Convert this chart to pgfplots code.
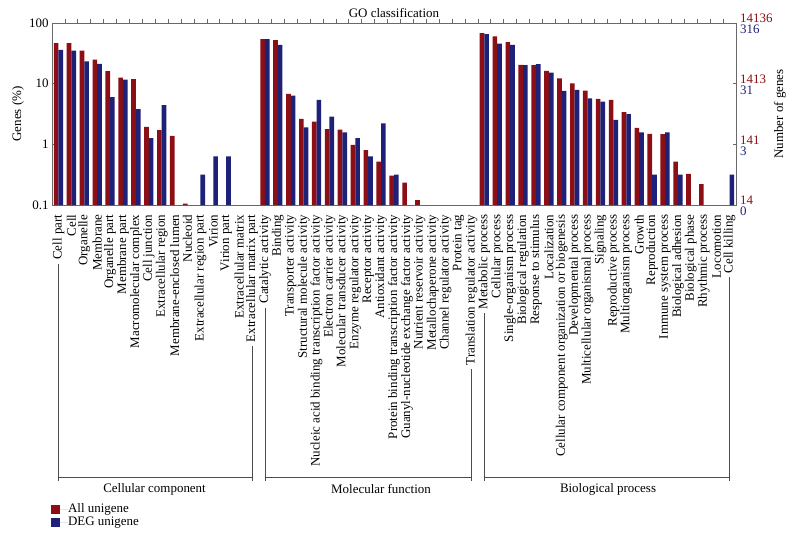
\documentclass[border=0pt]{standalone}
\usepackage{fontspec}
\setmainfont{Liberation Serif}
\usepackage{pgfplots}
\pgfplotsset{compat=1.18}
\definecolor{myred}{RGB}{139,15,20}
\definecolor{myblue}{RGB}{30,33,120}
\definecolor{axgray}{RGB}{105,105,105}
\newcommand\lbl[1]{\hbox to 266bp{{\color{black!70}\leaders\hrule height 3.45pt depth -2.65pt\hfill}\kern4pt #1}}
\newcommand\fnt{\fontsize{13}{13}\selectfont}
\begin{document}
\begin{tikzpicture}
\path[use as bounding box] (-52bp,-331bp) rectangle (746bp,205bp);
\begin{axis}[
  scale only axis, width=684bp, height=182bp,
  ymode=log, ymin=0.1, ymax=100, log origin=infty,
  xmin=-0.5, xmax=52.5,
  ybar=0pt, bar width=0.36,
  clip mode=individual,
  axis line style={axgray, line width=0.8bp},
  every tick/.style={axgray, line width=0.7bp},
  xtick={0,...,52},
  major x tick style={draw=none},
  minor xtick={0.5,1.5,...,51.5},
  minor tick length=3.5bp,
  major tick length=3.5bp,
  xtick pos=right, xticklabel pos=left,
  ytick pos=left,
  ytick={0.1,1,10,100}, yticklabels={0.1,1,10,100},
  yminorticks=false,
  tick label style={font=\fnt},
  xticklabel style={rotate=90, anchor=east, inner xsep=6bp, inner ysep=0pt},
  xticklabels={
    \lbl{Cell part},Cell,Organelle,Membrane,Organelle part,Membrane part,Macromolecular complex,Cell junction,Extracellular region,Membrane-enclosed lumen,Nucleoid,Extracellular region part,Virion,Virion part,Extracellular matrix,\lbl{Extracellular matrix part},
    \lbl{Catalytic activity},Binding,Transporter activity,Structural molecule activity,Nucleic acid binding transcription factor activity,Electron carrier activity,Molecular transducer activity,Enzyme regulator activity,Receptor activity,Antioxidant activity,Protein binding transcription factor activity,Guanyl-nucleotide exchange factor activity,Nutrient reservoir activity,Metallochaperone activity,Channel regulator activity,Protein tag,\lbl{Translation regulator activity},
    \lbl{Metabolic process},Cellular process,Single-organism process,Biological regulation,Response to stimulus,Localization,Cellular component organization or biogenesis,Developmental process,Multicellular organismal process,Signaling,Reproductive process,Multiorganism process,Growth,Reproduction,Immune system process,Biological adhesion,Biological phase,Rhythmic process,Locomotion,\lbl{Cell killing}},
  ylabel={Genes (\%)},
  ylabel style={font=\fnt, at={(axis description cs:-0.0497,0.5)}, anchor=center},
  title={GO classification},
  title style={font=\fnt, at={(axis description cs:0.5,1)}, anchor=south, inner sep=0pt, yshift=-0.5bp},
  legend style={at={(axis description cs:-0.006,-1.626)}, anchor=north west, draw=none, fill=none,
    font=\fnt, row sep=1bp, nodes={inner sep=0pt, text height=9bp, text depth=3bp}},
  legend cell align=left,
]
\addplot[fill=myred, draw=none, legend image code/.code={\fill[myred] (0bp,-4.5bp) rectangle (9bp,4.5bp); \path (0bp,0bp) -- (17bp,0bp);}] coordinates {
 (0,46.8) (1,46.8) (2,34.9) (3,24.8) (4,16.1) (5,12.6) (6,11.9) (7,1.94) (8,1.71) (9,1.38) (10,0.105)
 (16,54.4) (17,52.4) (18,6.8) (19,2.63) (20,2.37) (21,1.78) (22,1.74) (23,0.98) (24,0.80) (25,0.52) (26,0.305) (27,0.233) (28,0.12)
 (33,68.3) (34,60.1) (35,48.5) (36,20.5) (37,20.3) (38,16.3) (39,12.2) (40,10.1) (41,7.7) (42,5.62) (43,5.42) (44,3.39) (45,1.87) (46,1.49) (47,1.47) (48,0.52) (49,0.325) (50,0.22)
};
\addplot[fill=myblue, draw=none, legend image code/.code={\fill[myblue] (0bp,-4.5bp) rectangle (9bp,4.5bp); \path (0bp,0bp) -- (17bp,0bp);}] coordinates {
 (0,36.1) (1,35.1) (2,23.4) (3,21.2) (4,6.01) (5,11.7) (6,3.80) (7,1.27) (8,4.43) (11,0.316) (12,0.633) (13,0.633)
 (16,54.4) (17,43.4) (18,6.33) (19,1.90) (20,5.38) (21,2.85) (22,1.58) (23,1.27) (24,0.633) (25,2.22) (26,0.316)
 (33,65.8) (34,45.6) (35,43.7) (36,20.3) (37,20.9) (38,15.2) (39,7.59) (40,7.91) (41,5.70) (42,5.06) (43,2.53) (44,3.16) (45,1.58) (46,0.316) (47,1.58) (48,0.316) (52,0.316)
};
\legend{All unigene, DEG unigene}
\draw[black!70, line width=0.8bp] (axis description cs:0.009434,-1.49451) -- (axis description cs:0.29245,-1.49451);
\draw[black!70, line width=0.8bp] (axis description cs:0.31132,-1.49451) -- (axis description cs:0.61321,-1.49451);
\draw[black!70, line width=0.8bp] (axis description cs:0.63208,-1.49451) -- (axis description cs:0.99057,-1.49451);
\node[font=\fnt] at (axis description cs:0.1499,-1.560) {Cellular component};
\node[font=\fnt] at (axis description cs:0.481,-1.560) {Molecular function};
\node[font=\fnt] at (axis description cs:0.8129,-1.560) {Biological process};
\end{axis}
\begin{axis}[
  scale only axis, width=684bp, height=182bp,
  ymode=log, ymin=0.1, ymax=100,
  xmin=-0.5, xmax=52.5,
  axis x line=none, axis y line*=right,
  axis line style={axgray, line width=0.8bp},
  every tick/.style={axgray, line width=0.7bp},
  major tick length=3.5bp,
  ytick={0.1,1,10,100},
  yminorticks=false,
  yticklabels={{\textcolor{myred}{14}\\\textcolor{myblue}{0}},{\textcolor{myred}{141}\\\textcolor{myblue}{3}},{\textcolor{myred}{1413}\\\textcolor{myblue}{31}},{\textcolor{myred}{14136}\\\textcolor{myblue}{316}}},
  yticklabel style={font=\fontsize{13}{11}\selectfont, align=left, anchor=west, inner xsep=4bp, yshift=-1bp},
  ylabel={Number of genes},
  ylabel style={font=\fnt, at={(axis description cs:1.0643,0.5)}, anchor=center},
]
\addplot[draw=none, forget plot] coordinates {(0,1)};
\end{axis}
\end{tikzpicture}
\end{document}
